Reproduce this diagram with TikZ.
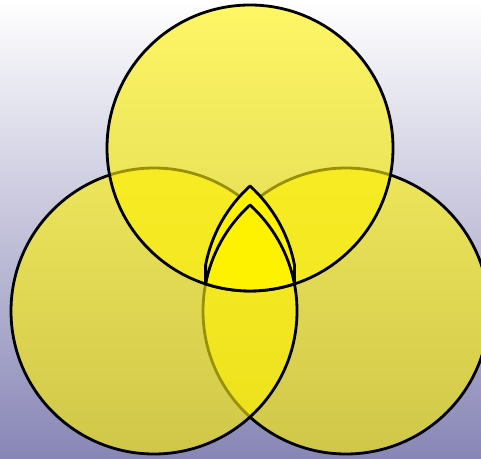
\documentclass[tikz,border=0pt]{standalone}
\definecolor{bgbot}{RGB}{136,134,182}
\definecolor{bgmid}{RGB}{212,211,228}
\begin{document}
\begin{tikzpicture}[x=1pt,y=1pt,
	ring/.style={draw=black,line width=2.8pt,fill=yellow,fill opacity=0.6},
	core/.style={draw=black,line width=2.8pt,fill=yellow,line join=round}]
		\useasboundingbox (0,0) rectangle (481,458);
		\clip (0,0) rectangle (481,458);
		\shade[top color=white,middle color=bgmid,bottom color=bgbot] (0,0) rectangle (481,458);
		% the three sets
		\coordinate (top) at (250,310);
		\coordinate (left) at (154,147);
		\coordinate (right) at (346,147);
		\draw[ring] (right) circle (143);
		\draw[ring] (left) circle (143);
		\draw[ring] (top) circle (143);
		% the common part, lifted
		\coordinate (bl) at (205.6,174.1);
		\coordinate (br) at (294.4,174.1);
		\draw[core] (bl) -- ++(0,19)
			arc[start angle=169.07,end angle=132.16,radius=143]
			arc[start angle=47.84,end angle=10.93,radius=143] -- (br)
			arc[start angle=-71.9,end angle=-108.1,radius=143] -- cycle;
		\draw[core,fill=none] (bl)
			arc[start angle=169.07,end angle=132.16,radius=143] coordinate (apex)
			arc[start angle=47.84,end angle=10.93,radius=143];
		\end{tikzpicture}
\end{document}
